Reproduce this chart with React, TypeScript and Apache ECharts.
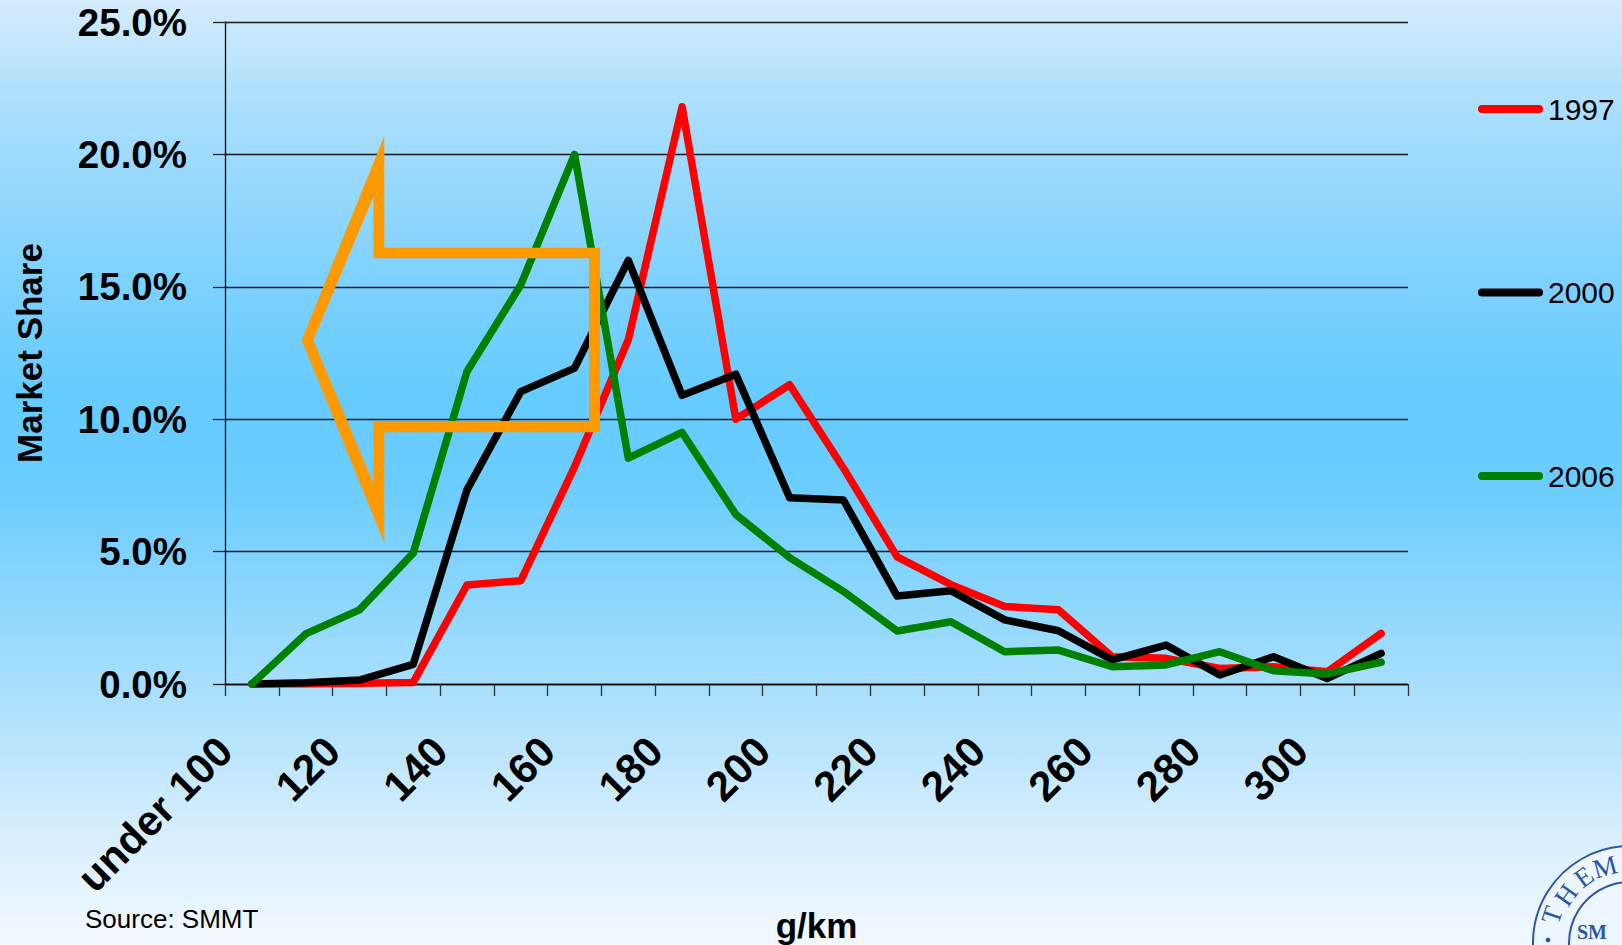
import React, { useEffect, useRef } from "react";
import * as echarts from "echarts";

// CO2 emission bands (g/km); each band is one category on the x axis
const bins = [
  "under 100", "100-109", "110-119", "120-129", "130-139", "140-149",
  "150-159", "160-169", "170-179", "180-189", "190-199", "200-209",
  "210-219", "220-229", "230-239", "240-249", "250-259", "260-269",
  "270-279", "280-289", "290-299", "300-309",
];

// Labels printed on every second band boundary
const tickLabels = [
  "under 100", "120", "140", "160", "180", "200", "220", "240", "260", "280", "300",
];

// Market share (%) of new cars registered in each band
const share1997 = [0, 0, 0.03, 0.06, 3.74, 3.9, 8.2, 13.0, 21.8, 10.0, 11.3, 8.16, 4.8, 3.75, 2.93, 2.8, 1.03, 0.97, 0.59, 0.65, 0.46, 1.91];
const share2000 = [0, 0.05, 0.15, 0.74, 7.33, 11.04, 11.93, 16.0, 10.9, 11.7, 7.03, 6.95, 3.32, 3.52, 2.42, 2.01, 0.91, 1.47, 0.34, 1.03, 0.21, 1.16];
const share2006 = [0, 1.89, 2.8, 4.94, 11.8, 15.07, 20.0, 8.53, 9.5, 6.4, 4.77, 3.5, 2.0, 2.35, 1.22, 1.28, 0.65, 0.72, 1.22, 0.5, 0.38, 0.82];

const seriesNames = ["1997", "2000", "2006"];
const seriesColors = ["#ff0000", "#000000", "#008000"];

const FONT = "'Liberation Sans', Arial, Helvetica, sans-serif";
const SERIF = "'Liberation Serif', 'DejaVu Serif', serif";

// Hollow left-pointing arrow: outer contour plus an inner contour wound the other way
const arrowPath =
  "M301.7,340 L384.3,136 L384.3,247.7 L600,247.7 L600,432.3 L384.3,432.3 L384.3,543 Z " +
  "M313.3,340 L373.3,483.3 L373.3,421 L589,421 L589,258.3 L373.3,258.3 L373.3,196.7 Z";
echarts.graphic.registerShape("arrowOutline", echarts.graphic.extendPath(arrowPath, {}));

export default function App() {
  const ref = useRef<HTMLDivElement | null>(null);

  useEffect(() => {
    if (!ref.current) return;
    const chart = echarts.init(ref.current, undefined, { renderer: "svg" });

    const values = [share1997, share2000, share2006];

    const sealColor = "#2a58a6";
    const sealCx = 1630;
    const sealCy = 943;
    const sealLetters = [
      { t: "T", x: 1552, y: 915, r: 71.6 },
      { t: "H", x: 1566, y: 895, r: 54.7 },
      { t: "E", x: 1584, y: 877, r: 35.9 },
      { t: "M", x: 1605, y: 867, r: 15 },
    ];

    chart.setOption({
      animation: false,
      grid: {
        left: 225,
        right: 214,
        top: 22,
        bottom: 261,
        containLabel: false,
        outerBoundsMode: "none",
      },
      xAxis: [
        {
          type: "category",
          data: bins,
          boundaryGap: true,
          name: "g/km",
          nameLocation: "middle",
          nameGap: 224,
          nameTextStyle: { fontFamily: FONT, fontWeight: "bold", fontSize: 35, color: "#000" },
          axisLine: { show: true, lineStyle: { color: "#000", width: 1.3 } },
          axisTick: { show: true, interval: 0, length: 12, lineStyle: { color: "#333", width: 1.3 } },
          axisLabel: { show: false },
          splitLine: { show: false },
        },
        {
          type: "value",
          position: "bottom",
          min: 0,
          max: bins.length,
          interval: 2,
          axisLine: { show: false },
          axisTick: { show: false },
          splitLine: { show: false },
          axisLabel: {
            show: true,
            rotate: 45,
            margin: 60,
            fontFamily: FONT,
            fontWeight: "bold",
            fontSize: 42,
            color: "#000",
            formatter: (v: number) => tickLabels[Math.round(v / 2)] ?? "",
          },
        },
      ],
      yAxis: {
        type: "value",
        min: 0,
        max: 25,
        interval: 5,
        name: "Market Share",
        nameLocation: "middle",
        nameGap: 178,
        nameTextStyle: { fontFamily: FONT, fontWeight: "bold", fontSize: 35, color: "#000" },
        axisLine: { show: true, lineStyle: { color: "#000", width: 1.3 } },
        axisTick: { show: true, length: 12, lineStyle: { color: "#222", width: 1.3 } },
        splitLine: { show: true, lineStyle: { color: "#1a1a1a", width: 1.3 } },
        axisLabel: {
          margin: 38,
          fontFamily: FONT,
          fontWeight: "bold",
          fontSize: 38.5,
          color: "#000",
          formatter: (v: number) => v.toFixed(1) + "%",
        },
      },
      legend: {
        orient: "vertical",
        left: 1473,
        top: 89,
        itemWidth: 65,
        itemHeight: 8,
        itemGap: 153.5,
        icon: "path://M4,0 L61,0 A4,4 0 0 1 61,8 L4,8 A4,4 0 0 1 4,0 Z",
        data: seriesNames,
        textStyle: { fontFamily: FONT, fontSize: 30, color: "#000", padding: [0, 0, 0, 0] },
      },
      series: seriesNames.map((name, i) => ({
        type: "line",
        name,
        xAxisIndex: 0,
        yAxisIndex: 0,
        data: values[i],
        showSymbol: false,
        symbol: "none",
        color: seriesColors[i],
        lineStyle: { color: seriesColors[i], width: 7.5, cap: "round", join: "round" },
        z: 2 + i,
      })),
      graphic: [
        {
          type: "arrowOutline",
          z: 100,
          x: 0,
          y: 0,
          style: { fill: "#ff9900", stroke: "none" },
        },
        {
          type: "text",
          left: 85,
          top: 906,
          style: { text: "Source: SMMT", fontFamily: FONT, fontSize: 26, fill: "#000" },
        },
        // SMMT seal in the corner
        {
          type: "circle",
          z: 50,
          shape: { cx: sealCx, cy: sealCy, r: 97 },
          style: { fill: "#eef6fd", stroke: sealColor, lineWidth: 2 },
        },
        {
          type: "circle",
          z: 51,
          shape: { cx: sealCx, cy: sealCy, r: 61 },
          style: { fill: "#eef6fd", stroke: sealColor, lineWidth: 2 },
        },
        ...sealLetters.map((l) => ({
          type: "text",
          z: 52,
          x: l.x,
          y: l.y,
          rotation: (l.r * Math.PI) / 180,
          style: {
            text: l.t,
            fontFamily: SERIF,
            fontSize: 27,
            fill: sealColor,
            align: "center",
            verticalAlign: "middle",
          },
        })),
        {
          type: "circle",
          z: 52,
          shape: { cx: 1548, cy: 940, r: 2.4 },
          style: { fill: sealColor },
        },
        {
          type: "text",
          z: 52,
          x: 1577,
          y: 932,
          style: {
            text: "SM",
            fontFamily: SERIF,
            fontWeight: "bold",
            fontSize: 20,
            fill: sealColor,
            align: "left",
            verticalAlign: "middle",
          },
        },
      ],
    });

    return () => {
      chart.dispose();
    };
  }, []);

  return (
    <div
      ref={ref}
      style={{
        position: "fixed",
        left: 0,
        top: 0,
        width: 1622,
        height: 945,
        background:
          "linear-gradient(to bottom, #d4ecfc 0%, #a9defd 12%, #7dd1fe 30%, #66cbff 42%, #6ccdff 52%, #a6defd 72%, #d6eefe 88%, #f2f9ff 100%)",
      }}
    />
  );
}
